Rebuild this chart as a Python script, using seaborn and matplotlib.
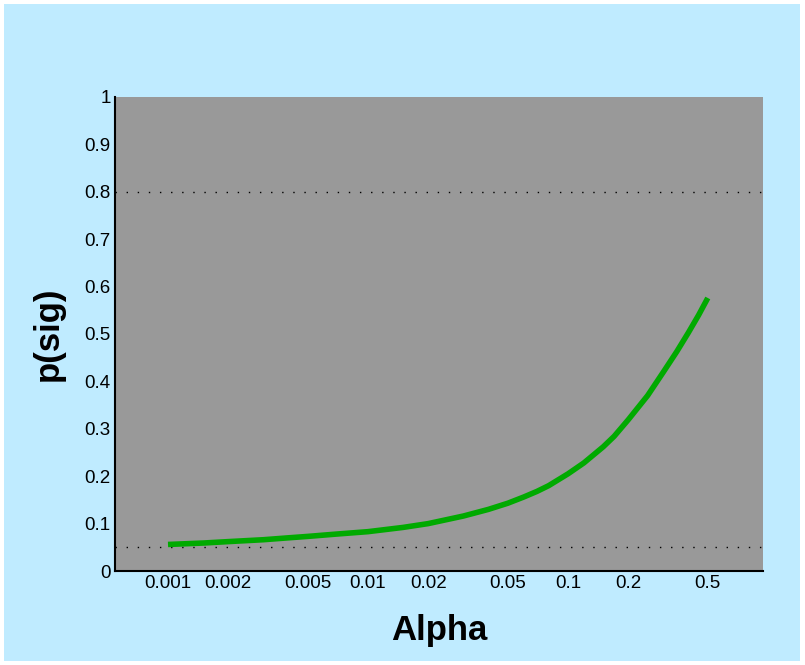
import matplotlib
matplotlib.use("Agg")
import matplotlib.pyplot as plt
from matplotlib.patches import Rectangle
import seaborn as sns
import pandas as pd

# Probability of a significant result as a function of the alpha level
alpha = [0.001, 0.0015, 0.002, 0.003, 0.004, 0.005, 0.007, 0.01, 0.015, 0.02,
         0.03, 0.04, 0.05, 0.06, 0.07, 0.08, 0.1, 0.12, 0.15, 0.17, 0.2,
         0.25, 0.3, 0.35, 0.4, 0.45, 0.5]
p_sig = [0.056, 0.059, 0.062, 0.066, 0.070, 0.073, 0.078, 0.083, 0.092, 0.100,
         0.116, 0.130, 0.143, 0.156, 0.168, 0.180, 0.205, 0.228, 0.262, 0.284, 0.319,
         0.370, 0.420, 0.463, 0.503, 0.540, 0.576]

x_ticks = [0.001, 0.002, 0.005, 0.01, 0.02, 0.05, 0.1, 0.2, 0.5]
x_tick_labels = ["0.001", "0.002", "0.005", "0.01", "0.02", "0.05", "0.1", "0.2", "0.5"]
y_ticks = [0, 0.1, 0.2, 0.3, 0.4, 0.5, 0.6, 0.7, 0.8, 0.9, 1]
y_tick_labels = ["0", "0.1", "0.2", "0.3", "0.4", "0.5", "0.6", "0.7", "0.8", "0.9", "1"]
ref_levels = [0.8, 0.05]

sns.set_theme(style="white", rc={"axes.facecolor": "#999999"})
plt.rcParams["font.family"] = ["Liberation Sans", "DejaVu Sans"]
plt.rcParams["text.color"] = "black"
plt.rcParams["axes.labelcolor"] = "black"

fig = plt.figure(figsize=(8.05, 6.65), dpi=100, facecolor="white")
fig.patches.append(Rectangle((4 / 805, 4 / 665), 796 / 805, 657 / 665,
                             transform=fig.transFigure, facecolor="#BFEBFF",
                             edgecolor="none", zorder=-10))
ax = fig.add_axes([115 / 805, 94 / 665, 648 / 805, 474 / 665])

df = pd.DataFrame({"Alpha": alpha, "p(sig)": p_sig})
sns.lineplot(data=df, x="Alpha", y="p(sig)", ax=ax, color="#00AA00",
             linewidth=4.0, solid_capstyle="butt", solid_joinstyle="round",
             zorder=3)

for lvl in ref_levels:
    ax.axhline(lvl, color="black", linewidth=1.0, linestyle=(0, (1, 7)), zorder=2)

ax.set_xscale("log")
ax.set_xlim(10 ** -3.265, 10 ** -0.025)
ax.set_ylim(0, 1)
ax.set_xticks(x_ticks)
ax.set_xticklabels(x_tick_labels)
ax.minorticks_off()
ax.set_yticks(y_ticks)
ax.set_yticklabels(y_tick_labels)
ax.tick_params(axis="both", length=0, labelsize=13.5, colors="black")
ax.tick_params(axis="x", pad=3)
ax.tick_params(axis="y", pad=3)

for side in ("top", "right"):
    ax.spines[side].set_visible(False)
for side in ("left", "bottom"):
    ax.spines[side].set_color("black")
    ax.spines[side].set_linewidth(1.5)

ax.set_xlabel("Alpha", fontsize=25, fontweight="bold", labelpad=16, color="black")
ax.set_ylabel("p(sig)", fontsize=25, fontweight="bold", labelpad=14, color="black")

fig.savefig("out.png", dpi=100, facecolor="white")
